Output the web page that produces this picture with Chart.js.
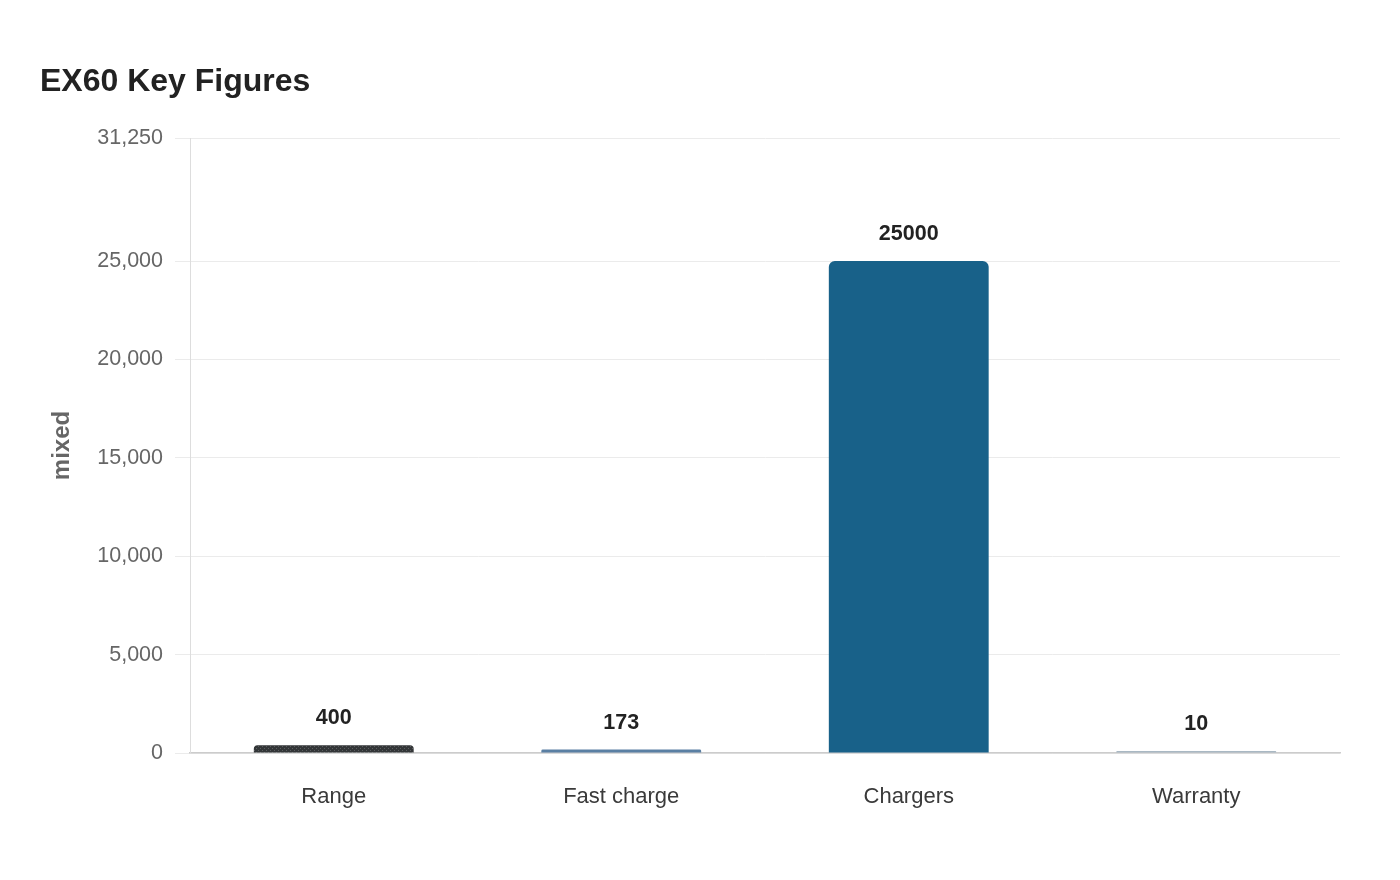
<!DOCTYPE html>
<html>
<head>
<meta charset="utf-8">
<script src="https://cdn.jsdelivr.net/npm/chart.js@4.4.1/dist/chart.umd.min.js"></script>
<style>
    html, body { margin: 0; padding: 0; background: #fff; }
    #wrap { width: 1400px; height: 880px; }
</style>
</head>
<body>
<div id="wrap"><canvas id="keyChart"></canvas></div>
<script>
const categories = ['Range', 'Fast charge', 'Chargers', 'Warranty'];
const values = [400, 173, 25000, 10];
const yTicks = [0, 5000, 10000, 15000, 20000, 25000, 31250];
const barColors = ['#333638', '#5a7fa3', '#186189', '#a9b8c3'];

const FONT = "'Liberation Sans', Arial, sans-serif";

// dotted fill for the first bar
function dotPattern(base, dot) {
    const c = document.createElement('canvas');
    c.width = 4;
    c.height = 4;
    const g = c.getContext('2d');
    g.fillStyle = base;
    g.fillRect(0, 0, 4, 4);
    g.fillStyle = dot;
    g.fillRect(0, 0, 1, 1);
    g.fillRect(2, 2, 1, 1);
    return g.createPattern(c, 'repeat');
}

const valueLabels = {
    id: 'valueLabels',
    afterDatasetsDraw(chart) {
        const ctx = chart.ctx;
        const meta = chart.getDatasetMeta(0);
        ctx.save();
        ctx.font = 'bold 21.5px ' + FONT;
        ctx.fillStyle = '#222';
        ctx.textAlign = 'center';
        ctx.textBaseline = 'middle';
        meta.data.forEach((bar, i) => {
            ctx.fillText(String(values[i]), bar.x, bar.y - 27);
        });
        ctx.restore();
    }
};

document.addEventListener('DOMContentLoaded', () => {
    const ctx = document.getElementById('keyChart').getContext('2d');
    const fills = barColors.slice();
    fills[0] = dotPattern('#333638', '#5c5f61');

    new Chart(ctx, {
        type: 'bar',
        data: {
            labels: categories,
            datasets: [{
                data: values,
                backgroundColor: fills,
                borderRadius: { topLeft: 6, topRight: 6 },
                borderSkipped: 'start',
                minBarLength: 2,
                barPercentage: 1,
                categoryPercentage: 0.556
            }]
        },
        options: {
            responsive: true,
            maintainAspectRatio: false,
            animation: false,
            layout: { padding: { left: 40, right: 60, top: 63, bottom: 0 } },
            scales: {
                x: {
                    grid: { display: false, drawTicks: false },
                    border: { display: true, color: '#cccccc', width: 1.5 },
                    ticks: {
                        color: '#3a3a3a',
                        padding: 31,
                        font: { size: 22, family: FONT }
                    },
                    afterFit(scale) { scale.height = 127; }
                },
                y: {
                    min: 0,
                    max: 31250,
                    afterBuildTicks(scale) {
                        scale.ticks = yTicks.map(v => ({ value: v }));
                    },
                    grid: { color: '#ebebeb', tickLength: 15 },
                    border: { color: '#dddddd' },
                    ticks: {
                        color: '#666',
                        padding: 12,
                        font: { size: 21.5, family: FONT },
                        callback: v => v.toLocaleString('en-US')
                    },
                    title: {
                        display: true,
                        text: 'mixed',
                        color: '#666',
                        padding: { top: 8, bottom: 0 },
                        font: { size: 24, weight: 'bold', family: FONT }
                    },
                    afterFit(scale) { scale.width = 150; }
                }
            },
            plugins: {
                legend: { display: false },
                tooltip: { enabled: false },
                title: {
                    display: true,
                    text: 'EX60 Key Figures',
                    align: 'start',
                    color: '#222',
                    padding: { top: 0, bottom: 36.6 },
                    font: { size: 32, weight: 'bold', family: FONT }
                }
            }
        },
        plugins: [valueLabels]
    });
});
</script>
</body>
</html>
